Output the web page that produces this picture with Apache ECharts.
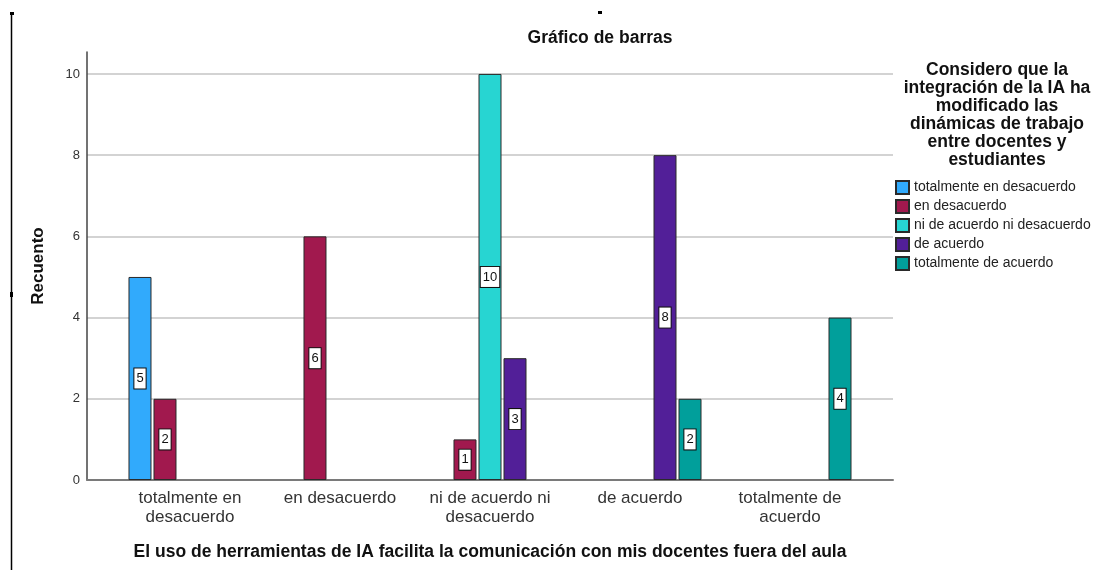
<!DOCTYPE html>
<html>
<head>
<meta charset="utf-8">
<title>Gráfico de barras</title>
<script src="https://cdn.jsdelivr.net/npm/echarts@6/dist/echarts.min.js"></script>
<style>
  html, body { margin: 0; padding: 0; background: #fff; }
  #chart { width: 1096px; height: 570px; }
</style>
</head>
<body>
<div id="chart"></div>
<script>
  // categorias del eje x
  const categories = [
    'totalmente en\ndesacuerdo',
    'en desacuerdo',
    'ni de acuerdo ni\ndesacuerdo',
    'de acuerdo',
    'totalmente de\nacuerdo'
  ];

  // grupos de la leyenda
  const seriesNames = [
    'totalmente en desacuerdo',
    'en desacuerdo',
    'ni de acuerdo ni desacuerdo',
    'de acuerdo',
    'totalmente de acuerdo'
  ];

  // recuentos por grupo (null = sin barra)
  const totalDesacuerdo = [5, null, null, null, null];
  const enDesacuerdo    = [2, 6, 1, null, null];
  const niAcuerdoNi     = [null, null, 10, null, null];
  const deAcuerdo       = [null, null, 3, 8, null];
  const totalAcuerdo    = [null, null, null, 2, 4];

  const seriesData = [totalDesacuerdo, enDesacuerdo, niAcuerdoNi, deAcuerdo, totalAcuerdo];
  const seriesColors = ['#31aafc', '#a1194e', '#27d5d2', '#521f98', '#019f9b'];

  const yMax = 10.54

  const chart = echarts.init(document.getElementById('chart'))

  const font = 'Liberation Sans, Arial, sans-serif'

  let option = {
    animation: false,
    textStyle: { fontFamily: font },
    title: [
      {
        text: 'Gráfico de barras',
        left: 600,
        top: 29,
        padding: 0,
        textAlign: 'center',
        textStyle: { fontSize: 17.5, fontWeight: 'bold', color: '#111', fontFamily: font }
      },
      {
        text: 'Considero que la\nintegración de la IA ha\nmodificado las\ndinámicas de trabajo\nentre docentes y\nestudiantes',
        left: 997,
        top: 61,
        padding: 0,
        textAlign: 'center',
        textStyle: { fontSize: 17.5, fontWeight: 'bold', color: '#111', lineHeight: 18, fontFamily: font }
      }
    ],
    legend: {
      data: seriesNames,
      orient: 'vertical',
      left: 895,
      top: 180,
      padding: 0,
      icon: 'rect',
      itemWidth: 13,
      itemHeight: 13,
      itemGap: 4,
      textStyle: { fontSize: 14, color: '#222', fontFamily: font }
    },
    grid: [
      { left: 87, width: 806, top: 52, height: 428 },
      { left: 115, width: 750, top: 52, height: 428 }
    ],
    xAxis: [
      {
        type: 'value',
        gridIndex: 0,
        min: 0,
        max: 1,
        axisLine: { show: true, lineStyle: { color: '#7a7a7a', width: 2 } },
        axisTick: { show: false },
        axisLabel: { show: false },
        splitLine: { show: false }
      },
      {
        type: 'category',
        gridIndex: 1,
        data: categories,
        axisLine: { show: false },
        axisTick: { show: false },
        axisLabel: { fontSize: 17, color: '#333', lineHeight: 19, margin: 9, interval: 0 },
        name: 'El uso de herramientas de IA facilita la comunicación con mis docentes fuera del aula',
        nameLocation: 'middle',
        nameGap: 63,
        nameTextStyle: { fontSize: 17.5, fontWeight: 'bold', color: '#111' }
      }
    ],
    yAxis: [
      {
        type: 'value',
        gridIndex: 0,
        min: 0,
        max: yMax,
        interval: 2,
        axisLine: { show: true, lineStyle: { color: '#444', width: 1.5 } },
        axisTick: { show: false },
        axisLabel: { fontSize: 13, color: '#333', margin: 7, showMaxLabel: false },
        splitLine: { show: true, showMaxLine: false, showMinLine: false, lineStyle: { color: '#c4c4c4', width: 1.5 } },
        name: 'Recuento',
        nameLocation: 'middle',
        nameRotate: 90,
        nameGap: 40,
        nameTextStyle: { fontSize: 17, fontWeight: 'bold', color: '#111' }
      },
      {
        type: 'value',
        gridIndex: 1,
        min: 0,
        max: yMax,
        show: false
      }
    ],
    graphic: [
      { type: 'line', shape: { x1: 11.5, y1: 13, x2: 11.5, y2: 570 }, style: { stroke: '#000', lineWidth: 1.5 } },
      { type: 'rect', shape: { x: 10, y: 12, width: 4, height: 3 }, style: { fill: '#000' } },
      { type: 'rect', shape: { x: 10, y: 292, width: 3, height: 5 }, style: { fill: '#000' } },
      { type: 'rect', shape: { x: 598, y: 11, width: 4, height: 3 }, style: { fill: '#000' } }
    ],
    series: seriesNames.map((name, i) => {
      return {
        name: name,
        type: 'bar',
        xAxisIndex: 1,
        yAxisIndex: 1,
        barWidth: 23,
        barGap: '8.7%',
        data: seriesData[i],
        itemStyle: { color: seriesColors[i], borderColor: '#2a2a2a', borderWidth: 1 },
        label: {
          show: true,
          position: 'inside',
          fontSize: 13,
          color: '#111',
          backgroundColor: '#fff',
          borderColor: '#111',
          borderWidth: 1,
          padding: [4, 2, 3, 2]
        }
      }
    })
  };

  chart.setOption(option)
</script>
</body>
</html>
